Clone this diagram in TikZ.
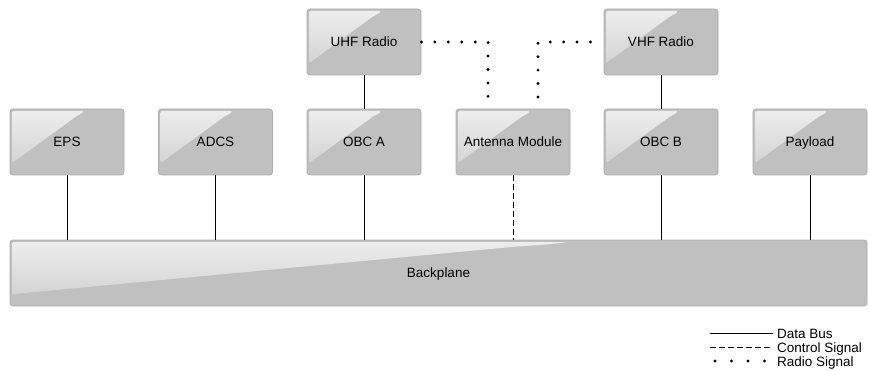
\documentclass[tikz,border=0pt]{standalone}
\usepackage{fontspec}
\setmainfont{Liberation Sans}
\usetikzlibrary{calc}

\definecolor{boxgray}{RGB}{192,192,192}
\definecolor{boxline}{RGB}{172,172,172}
\definecolor{glosslight}{RGB}{238,238,238}
\definecolor{glossdark}{RGB}{206,206,206}
\newcommand\unitfont{\fontsize{13.5}{16}\selectfont}

\tikzset{
  unit/.style={draw=boxline, line width=0.8pt, fill=boxgray, rounded corners=3pt,
    minimum width=114pt, minimum height=66pt, inner sep=0pt,
    text height=9.7pt, text depth=0pt, font=\unitfont,
    path picture={
      \shade[top color=glosslight, bottom color=glossdark, rounded corners=2pt]
        let \p1=(path picture bounding box.north west),
            \p2=(path picture bounding box.south east) in
        (\x1+2pt,\y1-2pt) -- (\x1+0.65*\x2-0.65*\x1,\y1-2pt)
        .. controls (\x1+0.64*\x2-0.64*\x1,\y1-0.05*\y1+0.05*\y2)
        and (\x1+0.62*\x2-0.62*\x1,\y1-0.08*\y1+0.08*\y2) ..
        (\x1+0.59*\x2-0.59*\x1,\y1-0.1*\y1+0.1*\y2)
        -- (\x1+2pt,\y1-0.82*\y1+0.82*\y2) -- cycle;
    }},
  bus/.style={line width=0.9pt, black},
  ctrl/.style={line width=0.9pt, black, dash pattern=on 6pt off 3pt},
  radio/.style={line width=3.2pt, black, line cap=round, dash pattern=on 0pt off 13.44pt},
  legtext/.style={anchor=base west, inner sep=0pt, font=\unitfont}
}

\begin{document}
\begin{tikzpicture}[x=1pt,y=-1pt]

\useasboundingbox (0,0) rectangle (869,371);

\coordinate (E) at (67,142);
\coordinate (A) at (215.5,142);
\coordinate (OA) at (364,142);
\coordinate (M) at (513,142);
\coordinate (OB) at (661,142);
\coordinate (P) at (810,142);
\coordinate (U) at (364,42);
\coordinate (V) at (661,42);
\coordinate (B) at (438.5,273);

\coordinate (rl) at (488,97);
\coordinate (rr) at (538,97);

\node[unit] (eps) at (E) {EPS};
\node[unit] (adcs) at (A) {ADCS};
\node[unit] (obca) at (OA) {OBC A};
\node[unit] (ant) at (M) {Antenna Module};
\node[unit] (obcb) at (OB) {OBC B};
\node[unit] (pay) at (P) {Payload};
\node[unit] (uhf) at (U) {UHF Radio};
\node[unit] (vhf) at (V) {VHF Radio};
\node[unit, minimum width=857pt] (bp) at (B) {Backplane};

\draw[bus] (eps) -- (eps |- bp.north);
\draw[bus] (adcs) -- (adcs |- bp.north);
\draw[bus] (obca) -- (obca |- bp.north);
\draw[ctrl] (ant) -- (ant |- bp.north);
\draw[bus] (obcb) -- (obcb |- bp.north);
\draw[bus] (pay) -- (pay |- bp.north);
\draw[bus] (uhf) -- (obca);
\draw[bus] (vhf) -- (obcb);

\draw[radio] (uhf.east) -- (uhf.east -| rl) -- (rl);
\draw[radio, shorten >=5pt] (rr) -- (rr |- vhf.west) -- (vhf.west);

% legend
\coordinate (k1) at (710,333);
\coordinate (k2) at (710,347);
\coordinate (k3) at (715,361);
\draw[bus] (k1) -- +(63,0);
\draw[ctrl] (k2) -- +(63,0);
\draw[radio, dash pattern=on 0pt off 16.5pt] (k3) -- +(51,0);
\node[legtext] (kbus) at (777,338) {Data Bus};
\node[legtext] (kctrl) at (777,352) {Control Signal};
\node[legtext] (kradio) at (777,366) {Radio Signal};

\end{tikzpicture}
\end{document}
